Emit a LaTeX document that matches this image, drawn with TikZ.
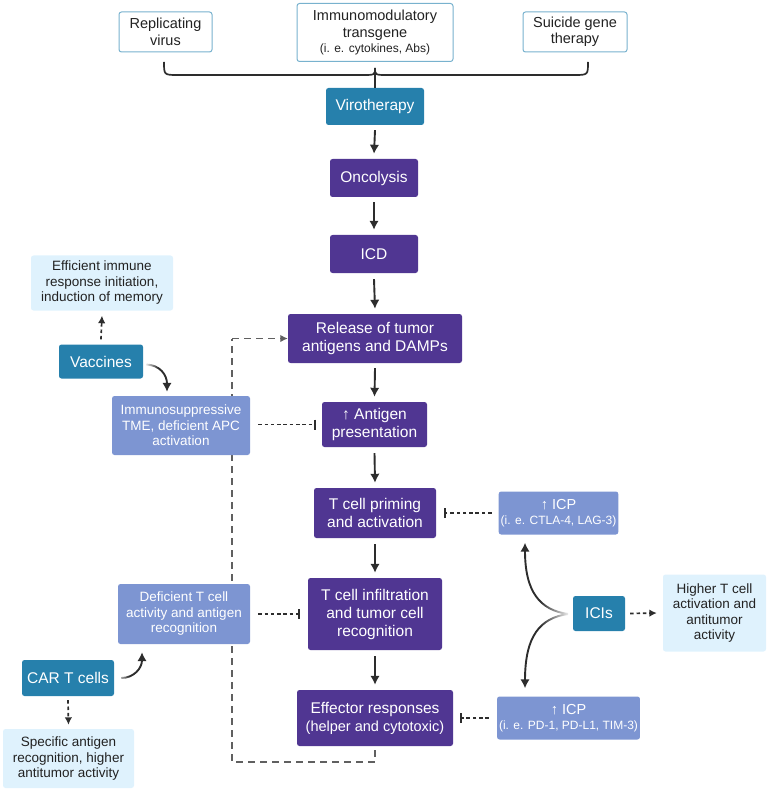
\documentclass[tikz,border=0pt]{standalone}
\usepackage{fontspec}
\setmainfont{Liberation Sans}
\usetikzlibrary{arrows.meta,fadings}
\definecolor{teal1}{RGB}{38,128,172}
\definecolor{purp}{RGB}{80,54,146}
\definecolor{peri}{RGB}{125,149,210}
\definecolor{lblue}{RGB}{223,242,253}
\definecolor{topedge}{RGB}{120,178,206}
\definecolor{ink}{RGB}{34,34,34}
\definecolor{dgray}{RGB}{45,45,45}
\tikzfading[name=fadetoright, left color=transparent!0, right color=transparent!100]
\tikzfading[name=fadetoleft, left color=transparent!100, right color=transparent!0]
\tikzset{
  base/.style={rounded corners=2.5pt, align=center, inner sep=2pt},
  topbox/.style={base, draw=topedge, line width=1pt, fill=white, text=ink, font=\fontsize{14.5}{16.5}\selectfont},
  tealbox/.style={base, fill=teal1, text=white, font=\fontsize{15.5}{17}\selectfont},
  purpbox/.style={base, fill=purp, text=white, font=\fontsize{15.5}{18}\selectfont},
  peribox/.style={base, fill=peri, text=white, font=\fontsize{13.5}{15.5}\selectfont},
  lightbox/.style={base, fill=lblue, text=ink, font=\fontsize{13.5}{15.5}\selectfont},
  flow/.style={draw=dgray, line width=1.9pt, -{Latex[length=9pt,width=9.5pt]}},
  dotarrow/.style={draw=dgray, line width=1.7pt, dash pattern=on 3.5pt off 2.8pt, -{Latex[length=7.5pt,width=7.5pt]}},
  inhib/.style={draw=dgray, line width=1.6pt, dash pattern=on 3.5pt off 2.8pt, -{Bar[width=10pt,line width=1.7pt]}},
  loopline/.style={draw=gray!75!black, line width=1.3pt, dash pattern=on 7pt off 5pt},
  loophead/.style={-{Latex[length=7.5pt,width=7.5pt]}},
  curvearrow/.style={draw=dgray, line width=1.9pt, -{Latex[length=9pt,width=9.5pt]}},
  whiteout/.style={fill=white, draw=none}
}
\begin{document}
\begin{tikzpicture}[x=1pt,y=-1pt]
\useasboundingbox (0,0) rectangle (768,791);

% corners of the dashed feedback loop
\coordinate (l1) at (375,762);
\coordinate (l2) at (232,762);
\coordinate (l3) at (232,338.5);

% top boxes
\node[topbox, minimum width=93, minimum height=40] (rep) at (165.5,32) {Replicating\\virus};
\node[topbox, minimum width=156, minimum height=58] (imm) at (375,32.5) {Immunomodulatory\\transgene\\[-1pt]{\fontsize{12}{13}\selectfont (i. e. cytokines, Abs)}};
\node[topbox, minimum width=104, minimum height=40] (sui) at (575,32) {Suicide gene\\therapy};

% brace
\coordinate (bl) at (164,62);
\coordinate (br) at (588,62);
\coordinate (bt) at (375,68);
\draw[dgray, line width=1.7pt] (bl) .. controls (164,75) .. (178,75) -- (362,75) .. controls (375,75) .. (bt);
\draw[dgray, line width=1.7pt] (br) .. controls (588,75) .. (574,75) -- (388,75) .. controls (375,75) .. (bt);

% main column
\node[tealbox, minimum width=98, minimum height=37] (viro) at (375,106.5) {Virotherapy};
\node[purpbox, minimum width=88, minimum height=38] (onco) at (374,178) {Oncolysis};
\node[purpbox, minimum width=88, minimum height=38] (icd) at (374,254) {ICD};
\node[purpbox, minimum width=174, minimum height=49] (rel) at (375,338.5) {Release of tumor\\antigens and DAMPs};
\node[purpbox, minimum width=105, minimum height=45] (ag) at (374.5,424.5) {↑ Antigen\\presentation};
\node[purpbox, minimum width=122, minimum height=50] (prim) at (375,513) {T cell priming\\and activation};
\node[purpbox, minimum width=134, minimum height=72] (inf) at (375,614) {T cell infiltration\\and tumor cell\\recognition};
\node[purpbox, minimum width=156, minimum height=56] (eff) at (375,718) {Effector responses\\{\fontsize{14.5}{16}\selectfont(helper and cytotoxic)}};

% dashed feedback loop
\draw[loopline] ([yshift=-4pt]eff.south) -- (l1) -- (l2) -- (l3);
\draw[loopline, loophead] (l3) -- (rel.west);

\draw[dgray, line width=1.7pt] (bt) -- (viro.north);
\draw[flow] ([yshift=-5pt]viro.south) -- ([yshift=5pt]onco.north);
\draw[flow] ([yshift=-5pt]onco.south) -- ([yshift=5pt]icd.north);
\draw[flow] ([yshift=-6pt]icd.south) -- ([yshift=5pt]rel.north);
\draw[flow] ([yshift=-5pt]rel.south) -- ([yshift=5pt]ag.north);
\draw[flow] ([yshift=-6pt]ag.south) -- ([yshift=5pt]prim.north);
\draw[flow] ([yshift=-6pt]prim.south) -- ([yshift=5pt]inf.north);
\draw[flow] ([yshift=-6pt]inf.south) -- ([yshift=5pt]eff.north);

% left side
\node[lightbox, minimum width=142, minimum height=55] (effi) at (102,283) {Efficient immune\\response initiation,\\induction of memory};
\node[tealbox, minimum width=84, minimum height=34] (vac) at (101,361.5) {Vaccines};
\node[peribox, minimum width=138, minimum height=59] (supp) at (181,425.5) {Immunosuppressive\\TME, deficient APC\\activation};
\node[peribox, minimum width=132, minimum height=60] (defi) at (184,614) {Deficient T cell\\activity and antigen\\recognition};
\node[tealbox, minimum width=92, minimum height=36] (car) at (68,678) {CAR T cells};
\node[lightbox, minimum width=131, minimum height=59] (spec) at (68.5,758.5) {Specific antigen\\recognition, higher\\antitumor activity};

\draw[dotarrow] ([yshift=5pt]vac.north) -- ([yshift=-5pt]effi.south);
\draw[curvearrow] ([xshift=3pt,yshift=-3pt]vac.east) .. controls (160,365) and (167,375) .. ([yshift=4pt]supp.north -| 167,0);
\fill[whiteout, path fading=fadetoright] (144.5,357) rectangle (158,372);
\draw[curvearrow] ([xshift=7pt]car.east) .. controls (134,678) and (142,668) .. ([yshift=-8pt]defi.south -| 142,0);
\fill[whiteout, path fading=fadetoright] (115.5,671) rectangle (129,685);
\draw[dotarrow] ([yshift=-4pt]car.south) -- ([yshift=4pt]spec.north);
\draw[inhib] ([xshift=8pt]supp.east |- ag.west) -- ([xshift=-6pt]ag.west);
\draw[inhib] ([xshift=8pt]defi.east) -- ([xshift=-8pt]inf.west);

% right side
\node[peribox, minimum width=119, minimum height=43, font=\fontsize{14.5}{15}\selectfont] (icp1) at (558.5,513) {↑ ICP\\{\fontsize{12}{13.5}\selectfont (i. e. CTLA-4, LAG-3)}};
\node[tealbox, minimum width=52, minimum height=35] (ici) at (599,613.5) {ICIs};
\node[lightbox, minimum width=103, minimum height=77] (high) at (714.5,613) {Higher T cell\\activation and\\antitumor\\activity};
\node[peribox, minimum width=137, minimum height=43, font=\fontsize{14.5}{15}\selectfont] (icp2) at (568.5,718) {↑ ICP\\{\fontsize{12}{13.5}\selectfont (i. e. PD-1, PD-L1, TIM-3)}};

\draw[inhib] ([xshift=-7pt]icp1.west) -- ([xshift=8pt]prim.east);
\draw[inhib] ([xshift=-8pt]icp2.west) -- ([xshift=7pt]eff.east);
\draw[dotarrow] ([xshift=5pt]ici.east) -- ([xshift=-6pt]high.west);
\coordinate (ic0) at (568,614);
\draw[curvearrow] (ic0) .. controls (540,610) and (525,592) .. ([yshift=-8pt]icp1.south -| 525,0);
\draw[curvearrow] (ic0) .. controls (540,618) and (525,636) .. ([yshift=8pt]icp2.north -| 525,0);
\fill[whiteout, path fading=fadetoleft] (540,596) rectangle (571,632);
\end{tikzpicture}
\end{document}
